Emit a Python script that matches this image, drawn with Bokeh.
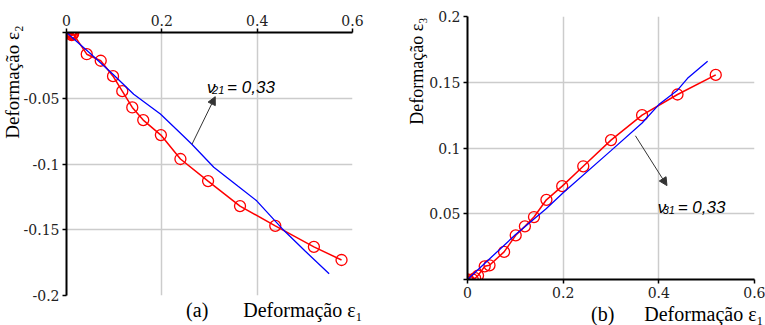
from bokeh.plotting import figure
from bokeh.layouts import row
from bokeh.models import (Range1d, FixedTicker, Label, Arrow, NormalHead, Title,
                          CustomJSTickFormatter)
from bokeh.embed import file_html
from bokeh.resources import INLINE

# ---- (a) lateral strain eps2 against axial strain eps1 ----
eps1_a = [0.0, 0.003, 0.007, 0.010, 0.012, 0.013, 0.011, 0.008, 0.010, 0.014,
          0.0425, 0.0718, 0.0976, 0.117, 0.138, 0.161, 0.198, 0.239, 0.297,
          0.364, 0.438, 0.519, 0.577]
eps2_a = [0.0, 0.001, 0.0035, 0.004, 0.002, -0.001, -0.002, -0.001, 0.0, -0.001,
          -0.0165, -0.0215, -0.0332, -0.0446, -0.057, -0.0666, -0.078, -0.0962,
          -0.113, -0.132, -0.147, -0.163, -0.173]
fit_eps1_a = [0.0, 0.05, 0.098, 0.141, 0.197, 0.243, 0.263, 0.309, 0.36, 0.399,
              0.452, 0.5, 0.551]
fit_eps2_a = [0.0, -0.016, -0.032, -0.047, -0.062, -0.078, -0.085, -0.1025,
              -0.117, -0.128, -0.149, -0.166, -0.1835]

# ---- (b) strain eps3 against axial strain eps1 ----
eps1_b = [0.0, 0.004, 0.007, 0.008, 0.006, 0.003, 0.006, 0.011, 0.016, 0.022,
          0.036, 0.046, 0.0765, 0.1008, 0.120, 0.139, 0.165, 0.198, 0.242,
          0.300, 0.365, 0.439, 0.519]
eps3_b = [0.0, -0.002, -0.004, -0.0065, -0.0075, -0.005, -0.002, 0.0, 0.001, 0.003,
          0.0100, 0.0108, 0.021, 0.0336, 0.0404, 0.0475, 0.0606, 0.071, 0.0861,
          0.106, 0.125, 0.1407, 0.1556]
fit_eps1_b = [0.0, 0.1, 0.165, 0.2, 0.3, 0.365, 0.4, 0.439, 0.46, 0.502]
fit_eps3_b = [0.0, 0.034, 0.054, 0.066, 0.098, 0.119, 0.133, 0.144, 0.153, 0.166]

x_ticks = [0, 0.2, 0.4, 0.6]
x_tick_labels = ["0", "0.2", "0.4", "0.6"]
y_ticks_a = [-0.2, -0.15, -0.1, -0.05, 0]
y_tick_labels_a = ["-0.2", "-0.15", "-0.1", "-0.05", ""]
y_ticks_b = [0, 0.05, 0.1, 0.15, 0.2]
y_tick_labels_b = ["", "0.05", "0.1", "0.15", "0.2"]

SERIF = "Liberation Serif, Times New Roman, serif"
TICK_FONT = "DejaVu Serif"
SANS = "Liberation Sans, Arial, sans-serif"
RED = "#ff0000"
BLUE = "#0000ff"
GRID = "#cccccc"
INK = "#333333"
NBSP = "\u00a0"

LOOKUP = """
const i = tick_values.findIndex((t) => Math.abs(t - tick) < 1e-9);
return i >= 0 ? tick_texts[i] : "";
"""


def set_ticks(axis, ticks, labels):
    axis.ticker = FixedTicker(ticks=ticks)
    axis.formatter = CustomJSTickFormatter(
        args=dict(tick_values=ticks, tick_texts=labels), code=LOOKUP)
    axis.major_label_text_font = TICK_FONT


def style_axes(p):
    for ax in p.axis:
        ax.axis_line_color = "black"
        ax.axis_line_width = 2
        ax.major_tick_line_color = "black"
        ax.major_tick_line_width = 1.5
        ax.major_tick_out = 4
        ax.major_tick_in = 0
        ax.minor_tick_out = 0
        ax.minor_tick_in = 0
        ax.major_label_text_font_size = "14px"
        ax.major_label_text_font_style = "normal"
        ax.major_label_text_color = "#222222"
        ax.major_label_standoff = 3
    p.grid.grid_line_color = GRID
    p.grid.grid_line_width = 1.5
    p.outline_line_color = None
    p.background_fill_color = "white"
    p.border_fill_color = "white"


def nu_label(p, x, y, sub):
    style = dict(text_font=SANS, text_font_style="italic", text_color="black",
                 text_baseline="alphabetic")
    p.add_layout(Label(x=x, y=y, text="\u03bd", text_font_size="17px", **style))
    p.add_layout(Label(x=x, y=y, x_offset=5, y_offset=-2, text=sub,
                       text_font_size="11px", **style))
    p.add_layout(Label(x=x, y=y, x_offset=20, text="= 0,33",
                       text_font_size="17px", **style))


def side_title(p, text, size, side, offset, standoff=0):
    p.add_layout(Title(text=text, align="right", offset=offset, standoff=standoff,
                       text_font=SERIF, text_font_size=size,
                       text_font_style="normal", text_color="black"), side)


# ---------------- panel (a) ----------------
pa = figure(width=385, height=325, output_backend="svg", toolbar_location=None,
            x_range=Range1d(0, 0.6), y_range=Range1d(-0.2, 0),
            x_axis_location="above", frame_align=False,
            min_border_left=66, min_border_right=33,
            min_border_top=32, min_border_bottom=30)
style_axes(pa)
set_ticks(pa.xaxis[0], x_ticks, x_tick_labels)
set_ticks(pa.yaxis[0], y_ticks_a, y_tick_labels_a)

pa.line(eps1_a, eps2_a, line_color=RED, line_width=1.5)
pa.scatter(eps1_a, eps2_a, size=11, marker="circle", fill_color=None,
           line_color=RED, line_width=1.3)
pa.line(fit_eps1_a, fit_eps2_a, line_color=BLUE, line_width=1.3)

pa.add_layout(Arrow(end=NormalHead(size=8, fill_color=INK, line_color=INK),
                    x_start=0.2635, y_start=-0.0848, x_end=0.312, y_end=-0.0488,
                    line_color=INK, line_width=1))
nu_label(pa, 0.295, -0.0422, "21")

side_title(pa, "Deforma\u00e7\u00e3o \u03b5\u2082", "19px", "left", -7, standoff=-5)
side_title(pa, "(a)" + NBSP * 7 + "Deforma\u00e7\u00e3o \u03b5\u2081", "20px", "below",
           -10, standoff=3)

# ---------------- panel (b) ----------------
pb = figure(width=380, height=325, output_backend="svg", toolbar_location=None,
            x_range=Range1d(0, 0.6), y_range=Range1d(0, 0.2), frame_align=False,
            min_border_left=82, min_border_right=11,
            min_border_top=16, min_border_bottom=46)
style_axes(pb)
set_ticks(pb.xaxis[0], x_ticks, x_tick_labels)
set_ticks(pb.yaxis[0], y_ticks_b, y_tick_labels_b)

pb.line(eps1_b, eps3_b, line_color=RED, line_width=1.5)
pb.scatter(eps1_b, eps3_b, size=11, marker="circle", fill_color=None,
           line_color=RED, line_width=1.3)
pb.line(fit_eps1_b, fit_eps3_b, line_color=BLUE, line_width=1.3)

pb.add_layout(Arrow(end=NormalHead(size=8, fill_color=INK, line_color=INK),
                    x_start=0.351, y_start=0.1093, x_end=0.417, y_end=0.0714,
                    line_color=INK, line_width=1))
nu_label(pb, 0.3975, 0.0545, "31")

side_title(pb, "Deforma\u00e7\u00e3o \u03b5\u2083", "18px", "left", 1)
side_title(pb, "(b)" + NBSP * 6 + "Deforma\u00e7\u00e3o \u03b5\u2081", "20px", "below", -9)

layout = row(pa, pb)
open("out.html", "w").write(file_html(layout, INLINE))
